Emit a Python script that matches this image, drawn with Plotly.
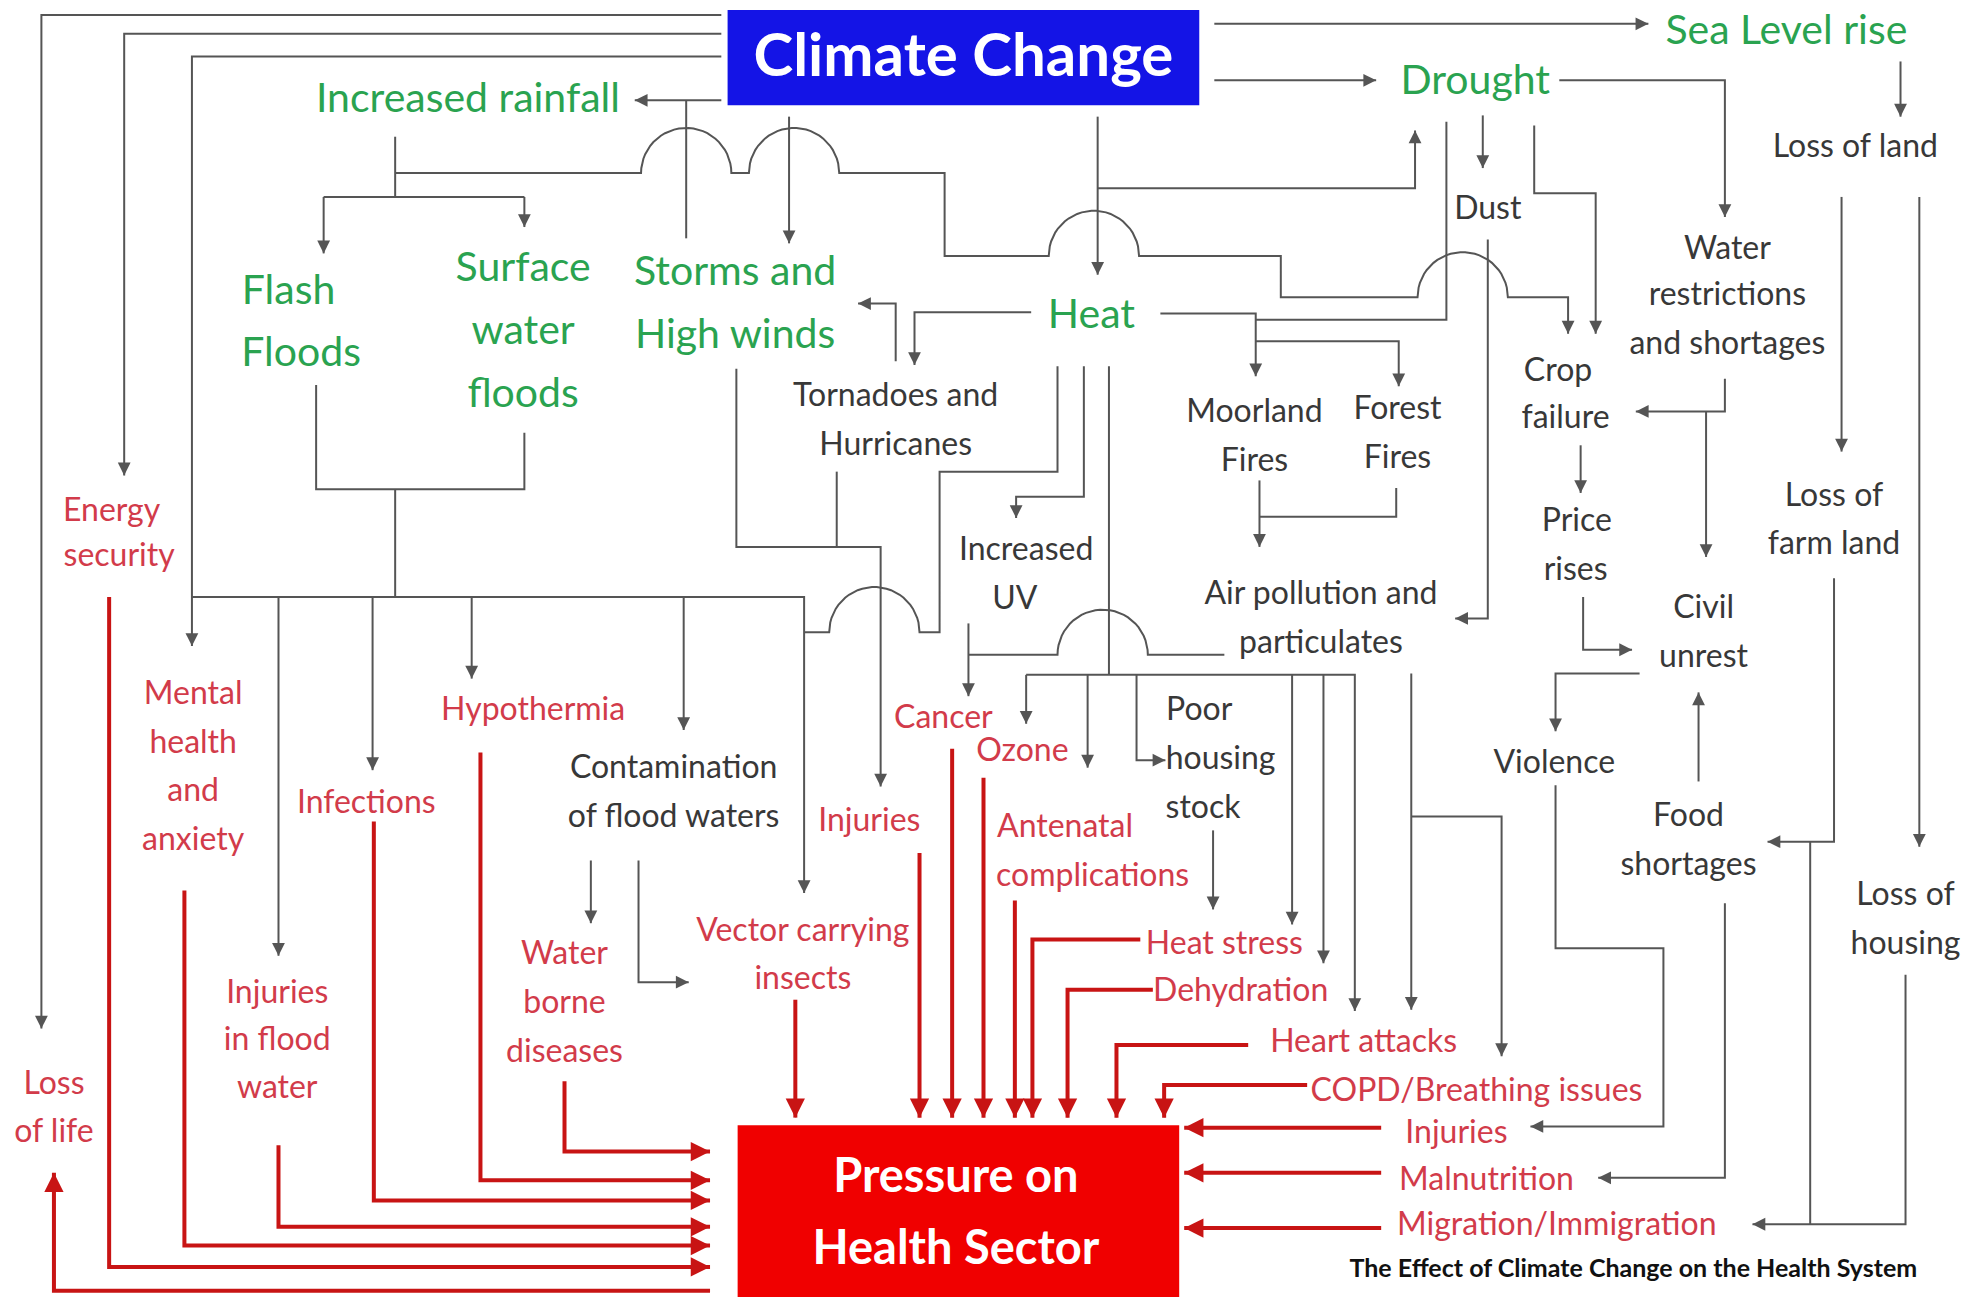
import numpy as np
import plotly.graph_objects as go

# ---------------- node labels (one entry per text line) ----------------
green_labels = ["Sea Level rise", "Drought", "Increased rainfall", "Flash", "Floods",
                "Surface", "water", "floods", "Storms and", "High winds", "Heat"]
green_x = [1424, 1176, 373, 230, 240, 417, 417, 417, 586, 586, 870]
green_y = [24, 64, 78, 231, 281, 213, 263, 313, 216, 266, 250]

black_labels = ["Loss of land", "Dust", "Water", "restrictions", "and shortages",
                "Tornadoes and", "Hurricanes", "Moorland", "Fires", "Forest", "Fires",
                "Crop", "failure", "Price", "rises", "Increased", "UV",
                "Air pollution and", "particulates", "Loss of", "farm land",
                "Civil", "unrest", "Poor", "housing", "stock", "Violence",
                "Contamination", "of flood waters", "Food", "shortages",
                "Loss of", "housing"]
black_x = [1479, 1186, 1377, 1377, 1377, 714, 714, 1000, 1000, 1114, 1114,
           1242, 1248, 1257, 1256, 818, 809, 1053, 1053, 1462, 1462,
           1358, 1358, 956, 973, 959, 1239, 537, 537, 1346, 1346, 1519, 1519]
black_y = [116, 165, 197, 234, 273, 314, 353, 327, 366, 325, 364,
           294, 332, 414, 453, 437, 476, 472, 511, 394, 432,
           483, 522, 565, 604, 643, 607, 611, 650, 649, 688, 712, 751]

red_labels = ["Energy", "security", "Mental", "health", "and", "anxiety", "Hypothermia",
              "Infections", "Cancer", "Ozone", "Injuries", "Antenatal", "complications",
              "Water", "borne", "diseases", "Vector carrying", "insects",
              "Injuries", "in flood", "water", "Heat stress", "Dehydration",
              "Heart attacks", "COPD/Breathing issues", "Loss", "of life",
              "Injuries", "Malnutrition", "Migration/Immigration"]
red_x = [89, 95, 154, 154, 154, 154, 425, 292, 752, 815, 693, 849, 871,
         450, 450, 450, 640, 640, 221, 221, 221, 976, 989, 1087, 1177, 43, 43,
         1161, 1185, 1241]
red_y = [406, 442, 552, 591, 629, 668, 565, 639, 571, 597, 653, 658, 697,
         759, 798, 837, 741, 779, 790, 828, 866, 751, 789, 829, 868, 863, 901,
         902, 939, 975]

title_label = "Climate Change"
sink_labels = ["Pressure on", "Health Sector"]
caption = "The Effect of Climate Change on the Health System"

# ---------------- connector routes (diagram coordinates) ----------------
# each: (waypoints, hop centres on horizontal runs, arrow at end?)
gray_routes = [
    ([(575, 12), (33, 12), (33, 820)], [], True),
    ([(575, 27), (99, 27), (99, 379)], [], True),
    ([(575, 45), (153, 45), (153, 515)], [], True),
    ([(575, 80), (506, 80)], [], True),
    ([(547, 80), (547, 190)], [], False),
    ([(315, 109), (315, 157)], [], False),
    ([(258, 157), (418, 157)], [], False),
    ([(258, 157), (258, 202)], [], True),
    ([(418, 157), (418, 181)], [], True),
    ([(315, 138), (753, 138), (753, 204), (1021, 204), (1021, 237), (1250, 237), (1250, 266)],
     [547, 633, 872, 1166], True),
    ([(629, 93), (629, 194)], [], True),
    ([(875, 93), (875, 219)], [], True),
    ([(875, 150), (1128, 150), (1128, 104)], [], True),
    ([(822, 249), (729, 249), (729, 291)], [], True),
    ([(714, 288), (714, 242), (684, 242)], [], True),
    ([(587, 294), (587, 436), (702, 436), (702, 627)], [], True),
    ([(667, 376), (667, 436)], [], False),
    ([(843, 292), (843, 376), (749, 376), (749, 504), (641, 504)], [697], False),
    ([(252, 307), (252, 390), (418, 390), (418, 345)], [], False),
    ([(315, 390), (315, 476)], [], False),
    ([(153, 476), (641, 476), (641, 712)], [], True),
    ([(222, 476), (222, 762)], [], True),
    ([(297, 476), (297, 614)], [], True),
    ([(376, 476), (376, 541)], [], True),
    ([(545, 476), (545, 582)], [], True),
    ([(471, 686), (471, 736)], [], True),
    ([(509, 686), (509, 783), (549, 783)], [], True),
    ([(864, 292), (864, 396), (810, 396), (810, 413)], [], True),
    ([(884, 292), (884, 538)], [], False),
    ([(818, 538), (1080, 538), (1080, 806)], [], True),
    ([(818, 538), (818, 577)], [], True),
    ([(867, 538), (867, 612)], [], True),
    ([(906, 538), (906, 606), (929, 606)], [], True),
    ([(1030, 538), (1030, 737)], [], True),
    ([(1055, 538), (1055, 768)], [], True),
    ([(772, 497), (772, 555)], [], True),
    ([(976, 522), (772, 522)], [879], False),
    ([(967, 662), (967, 725)], [], True),
    ([(1125, 537), (1125, 805)], [], True),
    ([(1125, 651), (1197, 651), (1197, 842)], [], True),
    ([(925, 250), (1001, 250), (1001, 300)], [], True),
    ([(1001, 272), (1115, 272), (1115, 308)], [], True),
    ([(1153, 97), (1153, 255), (1001, 255)], [], False),
    ([(1004, 383), (1004, 436)], [], True),
    ([(1113, 389), (1113, 412), (1004, 412)], [], False),
    ([(968, 19), (1314, 19)], [], True),
    ([(968, 64), (1097, 64)], [], True),
    ([(1243, 64), (1375, 64), (1375, 173)], [], True),
    ([(1515, 49), (1515, 93)], [], True),
    ([(1182, 92), (1182, 134)], [], True),
    ([(1186, 191), (1186, 493), (1160, 493)], [], True),
    ([(1223, 100), (1223, 154), (1272, 154), (1272, 266)], [], True),
    ([(1375, 302), (1375, 328), (1304, 328)], [], True),
    ([(1360, 328), (1360, 444)], [], True),
    ([(1260, 355), (1260, 393)], [], True),
    ([(1262, 476), (1262, 518), (1301, 518)], [], True),
    ([(1307, 537), (1240, 537), (1240, 583)], [], True),
    ([(1354, 623), (1354, 552)], [], True),
    ([(1468, 157), (1468, 360)], [], True),
    ([(1530, 157), (1530, 675)], [], True),
    ([(1462, 461), (1462, 671), (1409, 671)], [], True),
    ([(1443, 671), (1443, 976)], [], False),
    ([(1519, 777), (1519, 976), (1397, 976)], [], True),
    ([(1240, 626), (1240, 756), (1326, 756), (1326, 898), (1220, 898)], [], True),
    ([(1375, 720), (1375, 939), (1274, 939)], [], True),
]

red_routes = [
    [(87, 476), (87, 1010), (566, 1010)],
    [(147, 710), (147, 993), (566, 993)],
    [(222, 913), (222, 978), (566, 978)],
    [(298, 655), (298, 957), (566, 957)],
    [(383, 600), (383, 941), (566, 941)],
    [(450, 862), (450, 918), (566, 918)],
    [(566, 1029), (43, 1029), (43, 935)],
    [(634, 797), (634, 891)],
    [(733, 680), (733, 891)],
    [(759, 597), (759, 891)],
    [(784, 620), (784, 891)],
    [(809, 718), (809, 891)],
    [(909, 749), (823, 749), (823, 891)],
    [(919, 789), (851, 789), (851, 891)],
    [(995, 833), (890, 833), (890, 891)],
    [(1042, 865), (928, 865), (928, 891)],
    [(1101, 899), (944, 899)],
    [(1101, 935), (944, 935)],
    [(1101, 979), (944, 979)],
]

W_DATA, H_DATA = 1568, 1034
HOP_R = 36
TEXT_DY = 3
GRAY = "#555555"
RED_LINE = "#c81414"
GREEN = "#2aa350"
DARK = "#383838"
RED_TEXT = "#d23b4a"
FONT = "Lato"


def build_path(points, hops):
    xs, ys = [points[0][0]], [points[0][1]]
    for (x0, y0), (x1, y1) in zip(points[:-1], points[1:]):
        if y0 == y1 and x0 != x1:
            s = 1 if x1 > x0 else -1
            cs = sorted([c for c in hops if min(x0, x1) < c < max(x0, x1)], key=lambda c: s * c)
            for c in cs:
                th = np.linspace(np.pi, 0, 30) if s == 1 else np.linspace(0, np.pi, 30)
                xs += list(c + HOP_R * np.cos(th))
                ys += list(y0 - HOP_R * np.sin(th))
        xs.append(x1)
        ys.append(y1)
    return xs, ys


fig = go.Figure()
annotations = []


def add_arrow(points, color, width, size):
    (xa, ya), (xb, yb) = points[-2], points[-1]
    dx, dy = xb - xa, yb - ya
    n = max((dx ** 2 + dy ** 2) ** 0.5, 1e-6)
    annotations.append(dict(x=xb, y=yb, ax=xb - dx / n * 6, ay=yb - dy / n * 6,
                            xref="x", yref="y", axref="x", ayref="y", text="",
                            showarrow=True, arrowhead=2, arrowsize=size,
                            arrowwidth=width, arrowcolor=color, standoff=0))


gx, gy = [], []
for pts, hops, arrow in gray_routes:
    xs, ys = build_path(pts, hops)
    gx += xs + [None]
    gy += ys + [None]
    if arrow:
        add_arrow(pts, GRAY, 1.6, 1.6)
fig.add_trace(go.Scatter(x=gx, y=gy, mode="lines", line=dict(color=GRAY, width=2),
                         hoverinfo="skip", showlegend=False))

rx, ry = [], []
for pts in red_routes:
    xs, ys = build_path(pts, [])
    rx += xs + [None]
    ry += ys + [None]
    add_arrow(pts, RED_LINE, 3.5, 1.1)
fig.add_trace(go.Scatter(x=rx, y=ry, mode="lines", line=dict(color=RED_LINE, width=4),
                         hoverinfo="skip", showlegend=False))

# boxes
fig.add_shape(type="rect", x0=580, x1=956, y0=8, y1=84, xref="x", yref="y",
              fillcolor="#1414e6", line=dict(width=0), layer="below")
fig.add_shape(type="rect", x0=588, x1=940, y0=897, y1=1034, xref="x", yref="y",
              fillcolor="#f00000", line=dict(width=0), layer="below")


def add_text(labels, xs, ys, color, size, bold=False, dy=TEXT_DY):
    fig.add_trace(go.Scatter(
        x=xs, y=[v + dy for v in ys], mode="text",
        text=[f"<b>{t}</b>" if bold else t for t in labels],
        textposition="middle center",
        textfont=dict(family=FONT, size=size, color=color),
        hoverinfo="skip", showlegend=False))


add_text(green_labels, green_x, green_y, GREEN, 41)
add_text(black_labels, black_x, black_y, DARK, 32)
add_text(red_labels, red_x, red_y, RED_TEXT, 32)
add_text([title_label], [768], [45], "white", 60, bold=True, dy=4)
add_text(sink_labels, [762, 762], [938, 995], "white", 47, bold=True)
add_text([caption], [1302], [1010], "#111111", 25, bold=True)

fig.update_layout(
    width=1967, height=1297,
    margin=dict(l=0, r=0, t=0, b=0),
    paper_bgcolor="white", plot_bgcolor="white",
    xaxis=dict(range=[0, W_DATA], visible=False, fixedrange=True),
    yaxis=dict(range=[H_DATA, 0], visible=False, fixedrange=True),
    annotations=annotations,
    showlegend=False,
)

fig.write_html("out.html", config={"displayModeBar": False},
               post_script="document.body.style.margin='0';")
